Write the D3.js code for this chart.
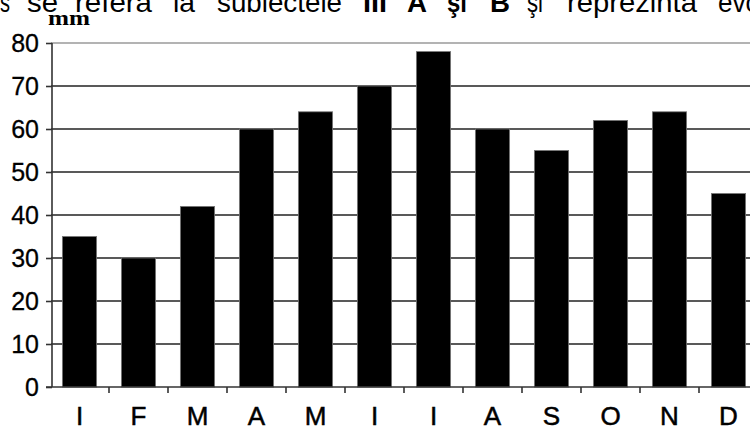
<!DOCTYPE html>
<html>
<head>
<meta charset="utf-8">
<script src="https://cdn.jsdelivr.net/npm/d3@7"></script>
<style>
  html, body { margin: 0; padding: 0; background: #fff; }
  svg { display: block; font-family: Arial, "Liberation Sans", sans-serif; }
</style>
</head>
<body>
<svg id="chart" width="750" height="426"></svg>
<script>
// Monthly precipitation (mm)
const months = ['I', 'F', 'M', 'A', 'M', 'I', 'I', 'A', 'S', 'O', 'N', 'D'];
const precip = [35, 30, 42, 60, 64, 70, 78, 60, 55, 62, 64, 45];
const yTicks = [0, 10, 20, 30, 40, 50, 60, 70, 80];

// Clipped line of page text above the chart
const headerWords = [
  { t: 's', x: 0, w: 10, b: false },
  { t: 'se', x: 27, w: 31, b: false },
  { t: 'referă', x: 75, w: 77, b: false },
  { t: 'la', x: 173, w: 22, b: false },
  { t: 'subiectele', x: 217, w: 125, b: false },
  { t: 'III', x: 363, w: 24, b: true },
  { t: 'A', x: 407, w: 20, b: true },
  { t: 'şi', x: 447, w: 20, b: true },
  { t: 'B', x: 490, w: 20, b: true },
  { t: 'şi', x: 527, w: 16, b: false },
  { t: 'reprezintă', x: 567, w: 130, b: false },
  { t: 'evo', x: 718, w: 42, b: false }
];

const svg = d3.select('#chart');
const x0 = 50, xBand = 59;

const x = d3.scaleBand()
  .domain(d3.range(months.length))
  .range([x0, x0 + xBand * months.length])
  .paddingInner(0.42)
  .paddingOuter(0.21);

const y = d3.scaleLinear().domain([0, 80]).range([387, 43]);

// header text
svg.append('g')
  .selectAll('text')
  .data(headerWords)
  .join('text')
  .attr('x', d => d.x)
  .attr('y', 12)
  .attr('font-size', '27px')
  .attr('font-weight', d => d.b ? 'bold' : 'normal')
  .attr('textLength', d => d.w)
  .attr('lengthAdjust', 'spacingAndGlyphs')
  .text(d => d.t);

// unit label
svg.append('text')
  .attr('x', 48)
  .attr('y', 25)
  .attr('font-family', '"Liberation Serif", "DejaVu Serif", serif')
  .attr('font-weight', 'bold')
  .attr('font-size', '22px')
  .attr('textLength', 42)
  .attr('lengthAdjust', 'spacingAndGlyphs')
  .text('mm');

// gridlines
svg.append('g')
  .selectAll('line')
  .data(yTicks.filter(v => v > 0))
  .join('line')
  .attr('x1', 51)
  .attr('x2', 750)
  .attr('y1', d => y(d))
  .attr('y2', d => y(d))
  .attr('stroke', d => d === 80 ? '#9a9a9a' : '#222')
  .attr('stroke-width', 1.6);

// bars
svg.append('g')
  .selectAll('rect')
  .data(precip)
  .join('rect')
  .attr('x', (d, i) => x(i))
  .attr('width', x.bandwidth())
  .attr('y', d => y(d))
  .attr('height', d => y(0) - y(d))
  .attr('fill', '#000')
  .attr('stroke', '#777')
  .attr('stroke-width', 0.8);

// y axis
const yAxis = d3.axisLeft(y).tickValues(yTicks).tickSize(6).tickPadding(7);
const gy = svg.append('g')
  .attr('transform', 'translate(52,0)')
  .call(yAxis);
gy.select('.domain').attr('stroke', '#333').attr('stroke-width', 1.6).attr('d', `M0,${y(80)}V${y(0)}`);
gy.selectAll('.tick line').attr('stroke', '#333').attr('stroke-width', 1.6);
gy.selectAll('.tick text')
  .attr('font-size', '25px')
  .attr('font-family', 'Arial, "Liberation Sans", sans-serif')
  .attr('fill', '#000')
  .attr('stroke', '#000')
  .attr('stroke-width', 0.3);

// x axis baseline + ticks between categories
svg.append('line')
  .attr('x1', 46).attr('x2', 750)
  .attr('y1', y(0)).attr('y2', y(0))
  .attr('stroke', '#333').attr('stroke-width', 1.6);

svg.append('g')
  .selectAll('line')
  .data(d3.range(1, months.length))
  .join('line')
  .attr('x1', i => x0 + i * xBand)
  .attr('x2', i => x0 + i * xBand)
  .attr('y1', y(0))
  .attr('y2', y(0) + 6)
  .attr('stroke', '#333')
  .attr('stroke-width', 1.6);

// month labels
svg.append('g')
  .selectAll('text')
  .data(months)
  .join('text')
  .attr('x', (d, i) => x(i) + x.bandwidth() / 2)
  .attr('y', 425)
  .attr('text-anchor', 'middle')
  .attr('font-size', '26px')
  .attr('fill', '#000')
  .attr('stroke', '#000')
  .attr('stroke-width', 0.5)
  .text(d => d);
</script>
</body>
</html>
